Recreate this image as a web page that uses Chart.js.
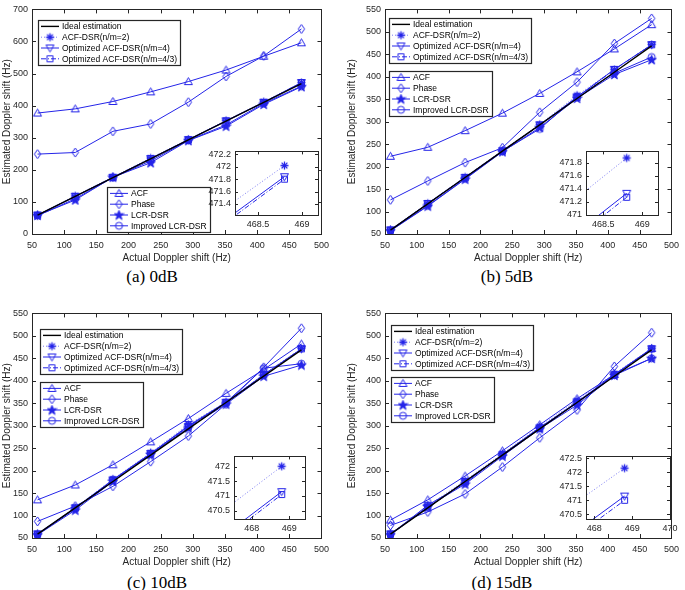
<!DOCTYPE html>
<html>
<head>
<meta charset="utf-8">
<script src="https://cdn.jsdelivr.net/npm/chart.js@4.4.1/dist/chart.umd.min.js"></script>
<style>
  html, body { margin: 0; padding: 0; background: #fff; }
  #fig { position: relative; width: 685px; height: 590px; overflow: hidden; background: #fff; }
  #fig canvas { position: absolute; }
  .cap { position: absolute; width: 200px; text-align: center; font-family: "Liberation Serif", "Times New Roman", serif;
         font-size: 17px; line-height: 20px; color: #000; }
</style>
</head>
<body>
<div id="fig">
  <div class="cap" style="left:52px;top:267px">(a) 0dB</div>
  <div class="cap" style="left:407px;top:267px">(b) 5dB</div>
  <div class="cap" style="left:57px;top:573px">(c) 10dB</div>
  <div class="cap" style="left:402px;top:573px">(d) 15dB</div>
</div>
<script>
'use strict';
//actual doppler shift of the eight test points (Hz)
var dopplerShift = [58.6, 117.2, 175.8, 234.4, 293.0, 351.6, 410.2, 468.8];
var idealEst = [58.6, 117.2, 175.8, 234.4, 293.0, 351.6, 410.2, 468.8];

var seriesNames = ['Ideal estimation', 'ACF-DSR(n/m=2)', 'Optimized ACF-DSR(n/m=4)', 'Optimized ACF-DSR(n/m=4/3)',
  'ACF', 'Phase', 'LCR-DSR', 'Improved LCR-DSR'];

//(a) 0dB
var acf0 = [377, 390, 413, 443, 475, 511, 554, 596];
var phase0 = [249, 254, 320, 343, 411, 491, 555, 639];
var lcr0 = [58, 106, 177, 222, 291, 336, 404, 459];
var impLcr0 = [57, 110, 176, 228, 292, 340, 407, 461];
var acfDsr0 = [59.5, 119, 178, 237, 295, 354, 412.2, 472.02];
var optDsr4_0 = [58.8, 117.5, 176.5, 235, 294, 352.5, 410.5, 471.84];
var optDsr43_0 = [58.5, 117, 176, 234.5, 293.5, 352, 410, 471.80];
//(b) 5dB
var acf5 = [223, 243, 280, 319, 363, 411, 462, 516];
var phase5 = [126, 168, 209, 242, 321, 388, 474, 530];
var lcr5 = [57, 112, 172, 233, 287, 352, 405, 438];
var impLcr5 = [58, 113, 173, 234, 284, 356, 408, 444];
var acfDsr5 = [59.5, 118.5, 177, 236, 294, 359, 416, 471.87];
var optDsr4_5 = [59, 118, 176, 235, 293, 355, 416.5, 471.33];
var optDsr43_5 = [58.5, 117.5, 175.5, 234.5, 292, 354, 416, 471.27];
//(c) 10dB
var acf10 = [135, 168, 213, 264, 316, 372, 425, 482];
var phase10 = [87, 121, 165, 220, 277, 348, 430, 517];
var lcr10 = [57, 112, 176, 236, 295, 348, 410, 435];
var impLcr10 = [58, 115, 180, 238, 300, 352, 428, 438];
var acfDsr10 = [59.5, 118, 181, 240, 303, 353, 414.6, 472.02];
var optDsr4_10 = [59, 117, 179, 238, 298, 352, 413.7, 471.15];
var optDsr43_10 = [58.5, 116.5, 178, 237, 297, 351, 413.3, 471.05];
//(d) 15dB
var acf15 = [90, 135, 188, 244, 302, 360, 414, 472];
var phase15 = [78, 108, 148, 208, 273, 335, 432, 507];
var lcr15 = [57, 120, 170, 232, 293, 346, 412, 450];
var impLcr15 = [58, 123, 172, 236, 296, 350, 414, 450];
var acfDsr15 = [59.5, 122, 178, 238, 298, 356, 416, 472.15];
var optDsr4_15 = [59, 118, 176, 235, 295, 353, 413, 471.15];
var optDsr43_15 = [58.5, 117, 175, 234, 294, 352, 412.8, 471.0];

//tick labels
var mainXTicks = [50, 100, 150, 200, 250, 300, 350, 400, 450, 500];
var yTicks0dB = [0, 100, 200, 300, 400, 500, 600, 700];
var yTicksHigh = [50, 100, 150, 200, 250, 300, 350, 400, 450, 500, 550];
var insetXTicksA = [468.5, 469];
var insetXTicksB = [468.5, 469];
var insetXTicksC = [468, 469];
var insetXTicksD = [468, 469, 470];
var insetYTicksA = [471.4, 471.6, 471.8, 472, 472.2];
var insetYTicksB = [471, 471.2, 471.4, 471.6, 471.8];
var insetYTicksC = [470.5, 471, 471.5, 472];
var insetYTicksD = [470.5, 471, 471.5, 472, 472.5];

var fontFamily = 'Arial, "Liberation Sans", Helvetica, sans-serif';
var axisColor = '#262626';
var blue = '#2424e8';
Chart.defaults.font.family = fontFamily;
Chart.defaults.color = axisColor;

//small marker pictures, same look as the matlab ones
function makeMarker(kind) {
  var c = document.createElement('canvas');
  c.width = 11; c.height = 11;
  var g = c.getContext('2d');
  var m = 5.5;
  g.strokeStyle = blue; g.fillStyle = blue; g.lineWidth = 1;
  g.beginPath();
  if (kind === 'tri') {
    g.moveTo(m, m - 4); g.lineTo(m + 4, m + 3); g.lineTo(m - 4, m + 3); g.closePath(); g.stroke();
  } else if (kind === 'triDown') {
    g.moveTo(m, m + 4); g.lineTo(m + 4, m - 3); g.lineTo(m - 4, m - 3); g.closePath(); g.stroke();
  } else if (kind === 'diamond') {
    g.moveTo(m, m - 4.5); g.lineTo(m + 3.2, m); g.lineTo(m, m + 4.5); g.lineTo(m - 3.2, m); g.closePath(); g.stroke();
  } else if (kind === 'circle') {
    g.arc(m, m, 3.5, 0, Math.PI * 2); g.stroke();
  } else if (kind === 'square') {
    g.rect(m - 3, m - 3, 6, 6); g.stroke();
  } else if (kind === 'asterisk') {
    g.lineWidth = 1.3;
    g.moveTo(m, m - 4); g.lineTo(m, m + 4);
    g.moveTo(m - 4, m); g.lineTo(m + 4, m);
    g.moveTo(m - 2.9, m - 2.9); g.lineTo(m + 2.9, m + 2.9);
    g.moveTo(m - 2.9, m + 2.9); g.lineTo(m + 2.9, m - 2.9);
    g.stroke();
  } else if (kind === 'pentagram') {
    for (var k = 0; k < 10; k++) {
      var r = k % 2 ? 2 : 5, ang = -Math.PI / 2 + k * Math.PI / 5;
      var px = m + r * Math.cos(ang), py = m + 0.3 + r * Math.sin(ang);
      if (k === 0) g.moveTo(px, py); else g.lineTo(px, py);
    }
    g.closePath(); g.fill(); g.stroke();
  }
  return c;
}

var seriesStyles = [
  { color: '#000000', width: 1.4, dash: [], marker: null },
  { color: 'rgba(36,36,232,0.6)', width: 1, dash: [1, 2], marker: makeMarker('asterisk') },
  { color: blue, width: 1, dash: [], marker: makeMarker('triDown') },
  { color: blue, width: 1, dash: [5, 2, 1, 2], marker: makeMarker('square') },
  { color: blue, width: 1, dash: [], marker: makeMarker('tri') },
  { color: blue, width: 1, dash: [], marker: makeMarker('diamond') },
  { color: blue, width: 1, dash: [], marker: makeMarker('pentagram') },
  { color: blue, width: 1, dash: [], marker: makeMarker('circle') }
];

function makeSets(ys, which) {
  return which.map(function (i) {
    var st = seriesStyles[i];
    return {
      label: seriesNames[i],
      data: dopplerShift.map(function (x, k) { return { x: x, y: ys[i][k] }; }),
      borderColor: st.color,
      borderWidth: st.width,
      borderDash: st.dash,
      pointStyle: st.marker || 'circle',
      pointRadius: st.marker ? 3 : 0,
      tension: 0,
      fill: false
    };
  });
}

function fixedWidth(w) { return function (scale) { scale.width = w; }; }
function fixedHeight(h) { return function (scale) { scale.height = h; }; }
function useTicks(vals) { return function (scale) { scale.ticks = vals.map(function (v) { return { value: v }; }); }; }
function trimNum(v) { return String(Math.round(v * 100) / 100); }

//box round the plot with ticks pointing inwards
var frameBox = {
  id: 'frameBox',
  beforeDatasetsDraw: function (chart, args, opts) {
    if (!opts.fill) return;
    var a = chart.chartArea, ctx = chart.ctx;
    ctx.save();
    ctx.fillStyle = opts.fill;
    ctx.fillRect(a.left, a.top, a.right - a.left, a.bottom - a.top);
    ctx.restore();
  },
  afterDraw: function (chart, args, opts) {
    var a = chart.chartArea, ctx = chart.ctx, len = opts.tickLen || 4;
    var sx = chart.scales.x, sy = chart.scales.y;
    ctx.save();
    ctx.strokeStyle = axisColor; ctx.lineWidth = 1; ctx.setLineDash([]);
    ctx.beginPath();
    sx.ticks.forEach(function (t) {
      var p = Math.round(sx.getPixelForValue(t.value)) + 0.5;
      ctx.moveTo(p, a.bottom); ctx.lineTo(p, a.bottom - len);
      ctx.moveTo(p, a.top); ctx.lineTo(p, a.top + len);
    });
    sy.ticks.forEach(function (t) {
      var p = Math.round(sy.getPixelForValue(t.value)) + 0.5;
      ctx.moveTo(a.left, p); ctx.lineTo(a.left + len, p);
      ctx.moveTo(a.right, p); ctx.lineTo(a.right - len, p);
    });
    ctx.stroke();
    ctx.strokeRect(Math.round(a.left) + 0.5, Math.round(a.top) + 0.5,
      Math.round(a.right - a.left), Math.round(a.bottom - a.top));
    ctx.restore();
  }
};

//legend boxes drawn inside the plot
var boxLegend = {
  id: 'boxLegend',
  afterDraw: function (chart, args, opts) {
    if (!opts.boxes) return;
    var ctx = chart.ctx, a = chart.chartArea, sets = chart.data.datasets;
    var row = 10.8, textX = 24;
    ctx.save();
    ctx.font = '8.5px ' + fontFamily;
    opts.boxes.forEach(function (b) {
      var tw = 0;
      b.items.forEach(function (i) { tw = Math.max(tw, ctx.measureText(sets[i].label).width); });
      var x = Math.round(a.left + b.dx), y = Math.round(a.top + b.dy);
      var w = Math.round(textX + tw + 3), h = Math.round(b.items.length * row + 2);
      ctx.fillStyle = '#fff';
      ctx.fillRect(x, y, w, h);
      ctx.strokeStyle = axisColor; ctx.lineWidth = 1.2; ctx.setLineDash([]);
      ctx.strokeRect(x + 0.5, y + 0.5, w, h);
      b.items.forEach(function (i, k) {
        var ds = sets[i], cy = y + 1 + row * (k + 0.5);
        ctx.strokeStyle = ds.borderColor; ctx.lineWidth = ds.borderWidth;
        ctx.setLineDash(ds.borderDash || []);
        ctx.beginPath(); ctx.moveTo(x + 3, cy); ctx.lineTo(x + 21, cy); ctx.stroke();
        ctx.setLineDash([]);
        if (typeof ds.pointStyle === 'object') ctx.drawImage(ds.pointStyle, x + 12 - 5.5, cy - 5.5);
        ctx.fillStyle = '#000'; ctx.textAlign = 'left'; ctx.textBaseline = 'middle';
        ctx.fillText(ds.label, x + textX, cy + 0.5);
      });
    });
    ctx.restore();
  }
};

function addCanvas(left, top, w, h) {
  var c = document.createElement('canvas');
  c.width = w; c.height = h;
  c.style.left = left + 'px'; c.style.top = top + 'px';
  c.style.width = w + 'px'; c.style.height = h + 'px';
  document.getElementById('fig').appendChild(c);
  return c;
}

var noGrid = { display: false, drawTicks: false };

function drawPanel(p) {
  var cv = addCanvas(p.left, p.top, p.w, 266);
  new Chart(cv, {
    type: 'line',
    data: { datasets: makeSets(p.ys, [0, 1, 2, 3, 4, 5, 6, 7]) },
    options: {
      responsive: false,
      animation: false,
      events: [],
      layout: { padding: { top: 5, right: p.padRight, left: 0, bottom: 0 } },
      scales: {
        x: {
          type: 'linear', min: 50, max: 500,
          grid: noGrid, border: { display: false },
          ticks: { padding: 6, font: { size: 9 }, callback: trimNum, maxRotation: 0, autoSkip: false },
          afterBuildTicks: useTicks(mainXTicks),
          afterFit: fixedHeight(32),
          title: { display: true, text: 'Actual Doppler shift (Hz)', font: { size: 10 }, padding: { top: 0, bottom: 2 } }
        },
        y: {
          type: 'linear', min: p.yTicks[0], max: p.yTicks[p.yTicks.length - 1],
          grid: noGrid, border: { display: false },
          ticks: { padding: 4, font: { size: 9 }, callback: trimNum, autoSkip: false },
          afterBuildTicks: useTicks(p.yTicks),
          afterFit: fixedWidth(p.yAxisW),
          title: { display: true, text: 'Estimated Doppler shift (Hz)', font: { size: 10 }, padding: { top: 1, bottom: 0 } }
        }
      },
      plugins: {
        legend: { display: false },
        tooltip: { enabled: false },
        frameBox: { tickLen: 4 },
        boxLegend: { boxes: p.legends }
      }
    },
    plugins: [frameBox, boxLegend]
  });
}

function drawInset(p) {
  var w = (p.r - p.l) + 40 + p.padRight, h = (p.b - p.t) + 5 + 18;
  var cv = addCanvas(p.l - 40, p.t - 5, w, h);
  new Chart(cv, {
    type: 'line',
    data: { datasets: makeSets(p.ys, [1, 2, 3]) },
    options: {
      responsive: false,
      animation: false,
      events: [],
      layout: { padding: { top: 5, right: p.padRight, left: 0, bottom: 0 } },
      scales: {
        x: {
          type: 'linear', min: p.xMin, max: p.xMax,
          grid: noGrid, border: { display: false },
          ticks: { padding: 4, font: { size: 9 }, callback: trimNum, maxRotation: 0, autoSkip: false },
          afterBuildTicks: useTicks(p.xTicks),
          afterFit: fixedHeight(18)
        },
        y: {
          type: 'linear', min: p.yMin, max: p.yMax,
          grid: noGrid, border: { display: false },
          ticks: { padding: 4, font: { size: 9 }, callback: trimNum, autoSkip: false },
          afterBuildTicks: useTicks(p.yTicks),
          afterFit: fixedWidth(40)
        }
      },
      plugins: {
        legend: { display: false },
        tooltip: { enabled: false },
        frameBox: { tickLen: 3, fill: '#ffffff' }
      }
    },
    plugins: [frameBox]
  });
}

var ysA = [idealEst, acfDsr0, optDsr4_0, optDsr43_0, acf0, phase0, lcr0, impLcr0];
var ysB = [idealEst, acfDsr5, optDsr4_5, optDsr43_5, acf5, phase5, lcr5, impLcr5];
var ysC = [idealEst, acfDsr10, optDsr4_10, optDsr43_10, acf10, phase10, lcr10, impLcr10];
var ysD = [idealEst, acfDsr15, optDsr4_15, optDsr43_15, acf15, phase15, lcr15, impLcr15];

drawPanel({ left: 0, top: 0, w: 335, padRight: 11, yAxisW: 32, ys: ysA, yTicks: yTicks0dB,
  legends: [{ dx: 6, dy: 11, items: [0, 1, 2, 3] }, { dx: 75, dy: 178, items: [4, 5, 6, 7] }] });
drawPanel({ left: 345, top: 0, w: 340, padRight: 11, yAxisW: 40, ys: ysB, yTicks: yTicksHigh,
  legends: [{ dx: 4, dy: 9, items: [0, 1, 2, 3] }, { dx: 4, dy: 62, items: [4, 5, 6, 7] }] });
drawPanel({ left: 0, top: 304, w: 335, padRight: 10, yAxisW: 32, ys: ysC, yTicks: yTicksHigh,
  legends: [{ dx: 8, dy: 16, items: [0, 1, 2, 3] }, { dx: 8, dy: 69, items: [4, 5, 6, 7] }] });
drawPanel({ left: 345, top: 304, w: 340, padRight: 11, yAxisW: 40, ys: ysD, yTicks: yTicksHigh,
  legends: [{ dx: 6, dy: 12, items: [0, 1, 2, 3] }, { dx: 6, dy: 64, items: [4, 5, 6, 7] }] });

drawInset({ l: 235, t: 147, r: 318, b: 215, padRight: 8, ys: ysA,
  xMin: 468.24, xMax: 469.18, yMin: 471.22, yMax: 472.25, xTicks: insetXTicksA, yTicks: insetYTicksA });
drawInset({ l: 586, t: 147, r: 658, b: 215, padRight: 8, ys: ysB,
  xMin: 468.28, xMax: 469.2, yMin: 471.0, yMax: 471.97, xTicks: insetXTicksB, yTicks: insetYTicksB });
drawInset({ l: 234, t: 452, r: 305, b: 519, padRight: 8, ys: ysC,
  xMin: 467.53, xMax: 469.42, yMin: 470.21, yMax: 472.36, xTicks: insetXTicksC, yTicks: insetYTicksC });
drawInset({ l: 586, t: 452, r: 670, b: 519, padRight: 12, ys: ysD,
  xMin: 467.78, xMax: 470.0, yMin: 470.33, yMax: 472.57, xTicks: insetXTicksD, yTicks: insetYTicksD });
</script>
</body>
</html>
